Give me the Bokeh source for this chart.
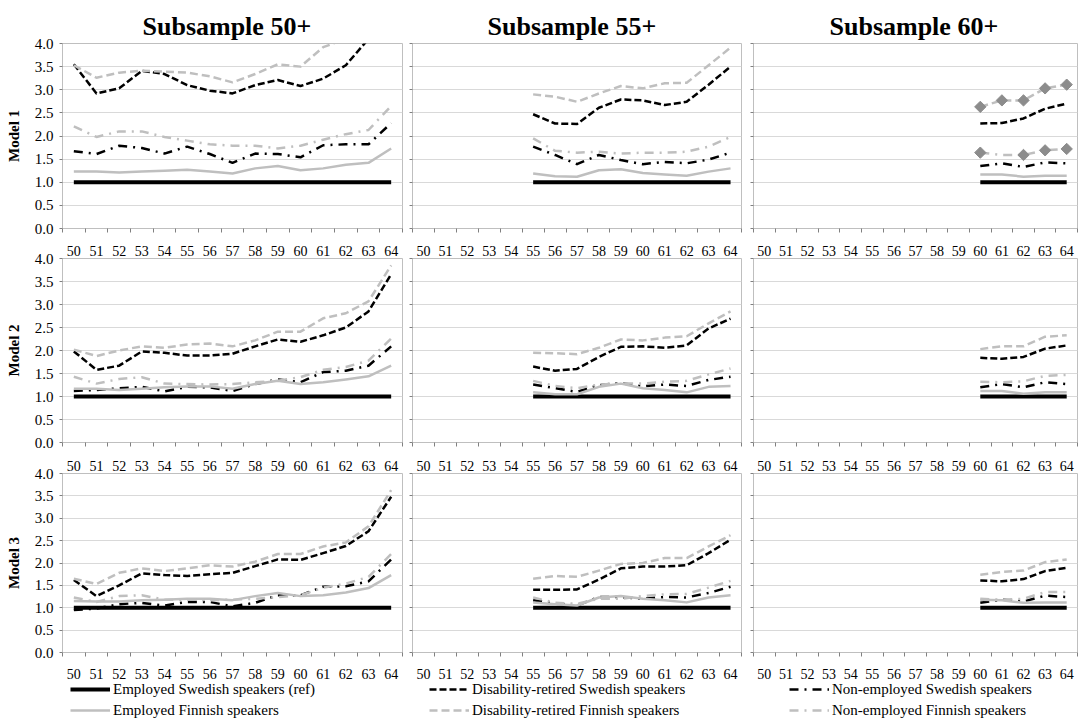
import math
from bokeh.plotting import figure
from bokeh.layouts import column, row
from bokeh.models import (Range1d, FixedTicker, PrintfTickFormatter, Legend, LegendItem, Title, LinearAxis)
from bokeh.embed import file_html
from bokeh.resources import INLINE

# ---------------- data ----------------
AGE_LABELS = [50, 51, 52, 53, 54, 55, 56, 57, 58, 59, 60, 61, 62, 63, 64]
AGES_50 = [50, 51, 52, 53, 54, 55, 56, 57, 58, 59, 60, 61, 62, 63, 64]
AGES_55 = [55, 56, 57, 58, 59, 60, 61, 62, 63, 64]
AGES_60 = [60, 61, 62, 63, 64]

Y_TICKS = [0.0, 0.5, 1.0, 1.5, 2.0, 2.5, 3.0, 3.5, 4.0]
COL_TITLES = ["Subsample 50+", "Subsample 55+", "Subsample 60+"]
ROW_TITLES = ["Model 1", "Model 2", "Model 3"]
SERIES_NAMES = ["Employed Swedish speakers (ref)", "Disability-retired Swedish speakers",
                "Non-employed Swedish speakers", "Employed Finnish speakers",
                "Disability-retired Finnish speakers", "Non-employed Finnish speakers"]

REF_50 = [1.0, 1.0, 1.0, 1.0, 1.0, 1.0, 1.0, 1.0, 1.0, 1.0, 1.0, 1.0, 1.0, 1.0, 1.0]
REF_55 = [1.0, 1.0, 1.0, 1.0, 1.0, 1.0, 1.0, 1.0, 1.0, 1.0]
REF_60 = [1.0, 1.0, 1.0, 1.0, 1.0]

# Model 1
M1_50_DIS_SWE = [3.55, 2.92, 3.03, 3.41, 3.34, 3.10, 2.98, 2.92, 3.10, 3.21, 3.08, 3.24, 3.53, 4.10, 5.20]
M1_50_NON_SWE = [1.67, 1.61, 1.79, 1.74, 1.62, 1.77, 1.61, 1.42, 1.62, 1.61, 1.54, 1.80, 1.82, 1.82, 2.28]
M1_50_EMP_FIN = [1.23, 1.23, 1.21, 1.23, 1.25, 1.27, 1.23, 1.19, 1.30, 1.35, 1.26, 1.30, 1.38, 1.42, 1.73]
M1_50_DIS_FIN = [3.53, 3.26, 3.37, 3.41, 3.39, 3.37, 3.29, 3.16, 3.34, 3.55, 3.50, 3.92, 4.10, 4.30, 4.80]
M1_50_NON_FIN = [2.21, 1.98, 2.10, 2.10, 1.98, 1.90, 1.82, 1.79, 1.79, 1.73, 1.79, 1.92, 2.04, 2.13, 2.65]

M1_55_DIS_SWE = [2.47, 2.27, 2.26, 2.61, 2.79, 2.77, 2.67, 2.74, 3.11, 3.50]
M1_55_NON_SWE = [1.77, 1.59, 1.39, 1.59, 1.48, 1.39, 1.44, 1.41, 1.49, 1.64]
M1_55_EMP_FIN = [1.19, 1.13, 1.12, 1.26, 1.28, 1.20, 1.17, 1.14, 1.23, 1.30]
M1_55_DIS_FIN = [2.90, 2.85, 2.74, 2.92, 3.08, 3.03, 3.14, 3.15, 3.53, 3.91]
M1_55_NON_FIN = [1.95, 1.68, 1.64, 1.66, 1.62, 1.64, 1.64, 1.66, 1.77, 1.98]

M1_60_DIS_SWE = [2.27, 2.28, 2.38, 2.59, 2.70]
M1_60_NON_SWE = [1.35, 1.41, 1.33, 1.43, 1.41]
M1_60_EMP_FIN = [1.17, 1.17, 1.12, 1.14, 1.14]
M1_60_DIS_FIN = [2.63, 2.77, 2.77, 3.03, 3.11]
M1_60_NON_FIN = [1.64, 1.59, 1.59, 1.69, 1.72]

# Model 2
M2_50_DIS_SWE = [1.98, 1.58, 1.67, 1.98, 1.95, 1.89, 1.89, 1.93, 2.09, 2.24, 2.19, 2.33, 2.50, 2.85, 3.66]
M2_50_NON_SWE = [1.12, 1.14, 1.18, 1.21, 1.11, 1.21, 1.20, 1.12, 1.27, 1.37, 1.31, 1.53, 1.56, 1.67, 2.09]
M2_50_EMP_FIN = [1.17, 1.17, 1.14, 1.17, 1.20, 1.22, 1.22, 1.17, 1.27, 1.34, 1.27, 1.31, 1.37, 1.44, 1.67]
M2_50_DIS_FIN = [2.02, 1.88, 2.00, 2.09, 2.06, 2.13, 2.15, 2.09, 2.22, 2.41, 2.41, 2.70, 2.81, 3.07, 3.85]
M2_50_NON_FIN = [1.43, 1.28, 1.38, 1.42, 1.28, 1.27, 1.26, 1.27, 1.31, 1.34, 1.42, 1.58, 1.64, 1.78, 2.26]

M2_55_DIS_SWE = [1.65, 1.56, 1.60, 1.86, 2.08, 2.09, 2.06, 2.11, 2.48, 2.69]
M2_55_NON_SWE = [1.26, 1.18, 1.10, 1.25, 1.29, 1.22, 1.26, 1.23, 1.36, 1.43]
M2_55_EMP_FIN = [1.09, 1.05, 1.05, 1.21, 1.28, 1.18, 1.14, 1.09, 1.21, 1.23]
M2_55_DIS_FIN = [1.95, 1.94, 1.92, 2.06, 2.24, 2.22, 2.28, 2.31, 2.59, 2.85]
M2_55_NON_FIN = [1.34, 1.23, 1.18, 1.26, 1.28, 1.28, 1.32, 1.34, 1.48, 1.61]

M2_60_DIS_SWE = [1.84, 1.82, 1.86, 2.04, 2.11]
M2_60_NON_SWE = [1.20, 1.27, 1.20, 1.31, 1.27]
M2_60_EMP_FIN = [1.12, 1.12, 1.06, 1.09, 1.09]
M2_60_DIS_FIN = [2.03, 2.09, 2.09, 2.30, 2.33]
M2_60_NON_FIN = [1.32, 1.31, 1.33, 1.45, 1.47]

# Model 3
M3_50_DIS_SWE = [1.62, 1.26, 1.50, 1.77, 1.73, 1.71, 1.75, 1.78, 1.93, 2.08, 2.07, 2.22, 2.38, 2.71, 3.48]
M3_50_NON_SWE = [0.95, 0.98, 1.08, 1.11, 1.05, 1.13, 1.13, 1.03, 1.11, 1.28, 1.28, 1.47, 1.48, 1.59, 2.08]
M3_50_EMP_FIN = [1.15, 1.14, 1.14, 1.17, 1.18, 1.20, 1.20, 1.17, 1.26, 1.33, 1.26, 1.28, 1.34, 1.44, 1.73]
M3_50_DIS_FIN = [1.65, 1.53, 1.78, 1.88, 1.82, 1.88, 1.95, 1.92, 2.03, 2.20, 2.20, 2.37, 2.46, 2.82, 3.63]
M3_50_NON_FIN = [1.23, 1.13, 1.26, 1.28, 1.18, 1.18, 1.17, 1.18, 1.20, 1.24, 1.28, 1.45, 1.54, 1.69, 2.20]

M3_55_DIS_SWE = [1.40, 1.40, 1.41, 1.63, 1.88, 1.92, 1.92, 1.95, 2.22, 2.52]
M3_55_NON_SWE = [1.17, 1.09, 1.05, 1.24, 1.24, 1.20, 1.24, 1.23, 1.33, 1.47]
M3_55_EMP_FIN = [1.12, 1.08, 1.05, 1.23, 1.26, 1.20, 1.17, 1.12, 1.23, 1.28]
M3_55_DIS_FIN = [1.65, 1.71, 1.69, 1.83, 1.98, 2.00, 2.11, 2.11, 2.37, 2.62]
M3_55_NON_FIN = [1.23, 1.11, 1.09, 1.20, 1.20, 1.26, 1.30, 1.31, 1.45, 1.60]

M3_60_DIS_SWE = [1.61, 1.59, 1.64, 1.82, 1.89]
M3_60_NON_SWE = [1.11, 1.18, 1.14, 1.27, 1.24]
M3_60_EMP_FIN = [1.18, 1.17, 1.11, 1.12, 1.12]
M3_60_DIS_FIN = [1.74, 1.80, 1.83, 2.02, 2.08]
M3_60_NON_FIN = [1.20, 1.18, 1.20, 1.35, 1.35]

# points of the Model 1 / 60+ panel that carry diamond markers (indices)
DIAMOND_DIS_FIN_IDX = [0, 1, 2, 3, 4]
DIAMOND_NON_FIN_IDX = [0, 2, 3, 4]

# ---------------- assembly ----------------
AGES = [AGES_50, AGES_55, AGES_60]
REFS = [REF_50, REF_55, REF_60]
PANELS = [
    [[M1_50_DIS_SWE, M1_50_NON_SWE, M1_50_EMP_FIN, M1_50_DIS_FIN, M1_50_NON_FIN],
     [M1_55_DIS_SWE, M1_55_NON_SWE, M1_55_EMP_FIN, M1_55_DIS_FIN, M1_55_NON_FIN],
     [M1_60_DIS_SWE, M1_60_NON_SWE, M1_60_EMP_FIN, M1_60_DIS_FIN, M1_60_NON_FIN]],
    [[M2_50_DIS_SWE, M2_50_NON_SWE, M2_50_EMP_FIN, M2_50_DIS_FIN, M2_50_NON_FIN],
     [M2_55_DIS_SWE, M2_55_NON_SWE, M2_55_EMP_FIN, M2_55_DIS_FIN, M2_55_NON_FIN],
     [M2_60_DIS_SWE, M2_60_NON_SWE, M2_60_EMP_FIN, M2_60_DIS_FIN, M2_60_NON_FIN]],
    [[M3_50_DIS_SWE, M3_50_NON_SWE, M3_50_EMP_FIN, M3_50_DIS_FIN, M3_50_NON_FIN],
     [M3_55_DIS_SWE, M3_55_NON_SWE, M3_55_EMP_FIN, M3_55_DIS_FIN, M3_55_NON_FIN],
     [M3_60_DIS_SWE, M3_60_NON_SWE, M3_60_EMP_FIN, M3_60_DIS_FIN, M3_60_NON_FIN]],
]

FONT = "Liberation Serif"
BLACK = "#000000"
LGRAY = "#BFBFBF"
GRID = "#D9D9D9"
MARK = "#8C8C8C"
TICK = "#808080"

# style per series: EmpSwe, DisSwe, NonSwe, EmpFin, DisFin, NonFin
STYLES = [
    dict(line_color=BLACK, line_width=4.0, line_dash="solid"),
    dict(line_color=BLACK, line_width=2.5, line_dash="7 3"),
    dict(line_color=BLACK, line_width=2.5, line_dash="9 6 2 6"),
    dict(line_color=LGRAY, line_width=2.5, line_dash="solid"),
    dict(line_color=LGRAY, line_width=2.5, line_dash="8 4"),
    dict(line_color=LGRAY, line_width=2.5, line_dash="9 6 2 6"),
]

# layout geometry (pixels)
COL_BORDERS = [(62, 340, 5), (5, 329, 6), (6, 324, 3)]    # left, frame, right
ROW_BORDERS = [(43, 185, 9), (21, 184, 9), (22, 179, 29)]  # top, frame, bottom
TITLE_OFFSETS = [80, 75, 76]
LEGEND_ROW_H = 37
LEGEND_X = [70, 22, 42]


def style_age_labels(ax, standoff):
    ax.major_label_text_font = FONT
    ax.major_label_text_font_size = "14px"
    ax.major_label_text_color = BLACK
    ax.major_label_standoff = standoff


rows = []
for r in range(3):
    figs = []
    for c in range(3):
        bl, fw, br = COL_BORDERS[c]
        bt, fh, bb = ROW_BORDERS[r]
        p = figure(width=bl + fw + br, height=bt + fh + bb,
                   x_range=Range1d(49.5, 64.5), y_range=Range1d(0, 4),
                   output_backend="svg", toolbar_location=None,
                   min_border_left=bl, min_border_right=br,
                   min_border_top=bt, min_border_bottom=bb)
        p.background_fill_color = "white"
        p.border_fill_color = "white"
        p.outline_line_color = LGRAY
        p.outline_line_width = 1

        if r == 0:
            t = Title(text=COL_TITLES[c], align="left", text_font=FONT,
                      text_font_size="26px", text_font_style="bold",
                      text_color=BLACK, standoff=5, offset=TITLE_OFFSETS[c])
            p.add_layout(t, "above")
        else:
            # age labels of the panel above, placed in the gap between the two panels
            top_ax = LinearAxis(ticker=FixedTicker(ticks=AGE_LABELS, minor_ticks=[]))
            top_ax.axis_line_color = None
            top_ax.major_tick_line_color = None
            top_ax.minor_tick_line_color = None
            top_ax.major_tick_out = 0
            top_ax.major_tick_in = 0
            style_age_labels(top_ax, 3)
            p.add_layout(top_ax, "above")

        # x axis (tick marks between ages)
        xa = p.below[0]
        xa.ticker = FixedTicker(ticks=AGE_LABELS,
                                minor_ticks=[a - 0.5 for a in AGE_LABELS] + [AGE_LABELS[-1] + 0.5])
        xa.major_tick_out = 0
        xa.major_tick_in = 0
        xa.minor_tick_out = 4
        xa.minor_tick_in = 0
        xa.minor_tick_line_color = TICK
        xa.axis_line_color = LGRAY
        if r == 2:
            style_age_labels(xa, 12)
        else:
            xa.major_label_overrides = {a: "" for a in AGE_LABELS}
            xa.major_label_standoff = 0
            xa.major_label_text_font_size = "1px"

        # y axis
        ya = p.yaxis[0]
        ya.ticker = FixedTicker(ticks=Y_TICKS, minor_ticks=[])
        ya.major_tick_out = 3
        ya.major_tick_in = 0
        ya.major_tick_line_color = TICK
        ya.axis_line_color = LGRAY
        ya.minor_tick_line_color = None
        if c == 0:
            ya.formatter = PrintfTickFormatter(format="%.1f")
            ya.major_label_text_font = FONT
            ya.major_label_text_font_size = "15px"
            ya.major_label_text_color = BLACK
            ya.major_label_standoff = 6
            ya.axis_label = ROW_TITLES[r]
            ya.axis_label_text_font = FONT
            ya.axis_label_text_font_size = "15px"
            ya.axis_label_text_font_style = "bold"
            ya.axis_label_text_color = BLACK
            ya.axis_label_standoff = 10
        else:
            ya.major_label_overrides = {v: "" for v in Y_TICKS}
            ya.major_label_standoff = 0

        p.xgrid.grid_line_color = None
        p.ygrid.ticker = FixedTicker(ticks=Y_TICKS)
        p.ygrid.grid_line_color = GRID
        p.ygrid.grid_line_width = 1

        ages = AGES[c]
        series = [REFS[c]] + PANELS[r][c]
        for s, vals in enumerate(series):
            p.line(ages, vals, line_join="round", **STYLES[s])

        if r == 0 and c == 2:
            dis_fin = PANELS[r][c][3]
            non_fin = PANELS[r][c][4]
            p.scatter([ages[i] for i in DIAMOND_DIS_FIN_IDX], [dis_fin[i] for i in DIAMOND_DIS_FIN_IDX],
                      marker="square", angle=math.pi / 4, size=8, color=MARK)
            p.scatter([ages[i] for i in DIAMOND_NON_FIN_IDX], [non_fin[i] for i in DIAMOND_NON_FIN_IDX],
                      marker="square", angle=math.pi / 4, size=8, color=MARK)
        figs.append(p)
    rows.append(row(*figs))

# legend row: one legend-only figure under each column (series drawn outside its view,
# only their legend glyphs show)
leg_figs = []
for c in range(3):
    bl, fw, br = COL_BORDERS[c]
    q = figure(width=bl + fw + br, height=LEGEND_ROW_H, x_range=Range1d(0, 1), y_range=Range1d(0, 1),
               output_backend="svg", toolbar_location=None, x_axis_type=None, y_axis_type=None,
               min_border_left=0, min_border_right=0, min_border_top=0, min_border_bottom=0)
    q.outline_line_color = None
    q.xgrid.grid_line_color = None
    q.ygrid.grid_line_color = None
    q.background_fill_color = "white"
    q.border_fill_color = "white"
    series = [REFS[c]] + PANELS[2][c]
    r_sw = q.line(AGES[c], series[c], **STYLES[c])
    r_fi = q.line(AGES[c], series[c + 3], **STYLES[c + 3])
    items = [LegendItem(label=SERIES_NAMES[c], renderers=[r_sw]),
             LegendItem(label=SERIES_NAMES[c + 3], renderers=[r_fi])]
    leg = Legend(items=items, location=(LEGEND_X[c], -1), orientation="vertical",
                 label_text_font=FONT, label_text_font_size="15px", label_text_color=BLACK,
                 label_standoff=3, glyph_width=40, glyph_height=18, label_height=18,
                 spacing=3, padding=0, margin=0,
                 border_line_alpha=0, background_fill_alpha=0)
    q.add_layout(leg)
    leg_figs.append(q)
rows.append(row(*leg_figs))

layout = column(*rows)
open("out.html", "w").write(file_html(layout, INLINE))
